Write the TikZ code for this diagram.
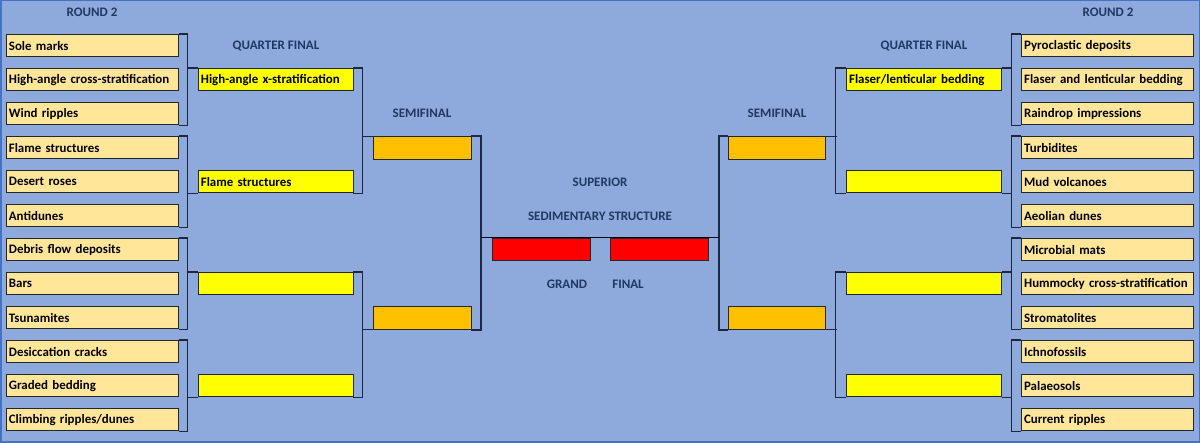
\documentclass[tikz,border=0pt]{standalone}
\usepackage{fontspec}
\setmainfont{Carlito}
\definecolor{bg}{HTML}{8EA9DB}
\definecolor{edge}{HTML}{4472C4}
\definecolor{rtwo}{HTML}{FFE699}
\definecolor{qfcol}{HTML}{FFFF00}
\definecolor{sfcol}{HTML}{FFC000}
\definecolor{fcol}{HTML}{FF0000}
\definecolor{head}{HTML}{1F3864}
\definecolor{brcol}{HTML}{1B2840}
\definecolor{thin}{HTML}{4A5B7E}
\tikzset{
  cell/.style={draw=black!85, line width=0.8pt, minimum height=22.5pt, inner ysep=0pt, inner xsep=2.5pt,
    align=left, font=\bfseries\fontsize{12.9}{14}\selectfont, text=black},
  rtwobox/.style={cell, fill=rtwo, minimum width=172pt, text width=167pt},
  qfbox/.style={cell, fill=qfcol, minimum width=154.5pt, text width=149.5pt},
  sfbox/.style={cell, fill=sfcol, minimum width=97.5pt},
  fbox/.style={cell, fill=fcol, minimum width=98pt},
  br/.style={draw=brcol, line width=1.3pt},
  brthick/.style={draw=brcol, line width=2pt},
  headtxt/.style={font=\bfseries\fontsize{13}{14}\selectfont, text=head, inner sep=0pt}
}
\begin{document}
\begin{tikzpicture}[x=1pt,y=-1pt]
\useasboundingbox (0,0) rectangle (1200,443);
\fill[bg] (0,0) rectangle (1200,443);
\draw[edge, line width=1.5pt] (0.75,0.75) rectangle (1199.25,442.25);

% headings
\node[headtxt] (hr2l) at (92,12) {ROUND 2};
\node[headtxt] (hr2r) at (1108,12) {ROUND 2};
\node[headtxt] (hqfl) at (276,46) {QUARTER FINAL};
\node[headtxt] (hqfr) at (924,46) {QUARTER FINAL};
\node[headtxt] (hsfl) at (422,113) {SEMIFINAL};
\node[headtxt] (hsfr) at (777,113) {SEMIFINAL};
\node[headtxt] (hsup) at (600,182) {SUPERIOR};
\node[headtxt] (hsed) at (600,216) {SEDIMENTARY STRUCTURE};
\node[headtxt] (hgr) at (567,284) {GRAND};
\node[headtxt] (hfi) at (628,284) {FINAL};

% round 2 boxes
\foreach \t [count=\i from 0] in {Sole marks, High-angle cross-stratification, Wind ripples, Flame structures, Desert roses, Antidunes, Debris flow deposits, Bars, Tsunamites, Desiccation cracks, Graded bedding, Climbing ripples/dunes}
  \node[rtwobox, anchor=north west] (L\i) at (6,{34+34*\i}) {\t};
\foreach \t [count=\i from 0] in {Pyroclastic deposits, Flaser and lenticular bedding, Raindrop impressions, Turbidites, Mud volcanoes, Aeolian dunes, Microbial mats, Hummocky cross-stratification, Stromatolites, Ichnofossils, Palaeosols, Current ripples}
  \node[rtwobox, anchor=north east] (R\i) at (1194,{34+34*\i}) {\t};

% quarter final boxes
\node[qfbox, anchor=north west] (QL1) at (198,68) {High-angle x-stratification};
\node[qfbox, anchor=north west] (QL2) at (198,170) {Flame structures};
\node[qfbox, anchor=north west] (QL3) at (198,272) {};
\node[qfbox, anchor=north west] (QL4) at (198,374) {};
\node[qfbox, anchor=north east] (QR1) at (1001.5,68) {Flaser/lenticular bedding};
\node[qfbox, anchor=north east] (QR2) at (1001.5,170) {};
\node[qfbox, anchor=north east] (QR3) at (1001.5,272) {};
\node[qfbox, anchor=north east] (QR4) at (1001.5,374) {};

% semifinal boxes
\node[sfbox, anchor=north west] (SL1) at (373,136.5) {};
\node[sfbox, anchor=north west] (SL2) at (373,306.5) {};
\node[sfbox, anchor=north east] (SR1) at (826,136.5) {};
\node[sfbox, anchor=north east] (SR2) at (826,306.5) {};

% final boxes
\node[fbox, anchor=north west] (FL) at (491.5,238) {};
\node[fbox, anchor=north east] (FR) at (708.5,238) {};

% round 2 brackets
\foreach \g in {0,1,2,3}{
  \pgfmathtruncatemacro\a{3*\g}
  \pgfmathtruncatemacro\c{3*\g+2}
  \draw[br] (L\a.north east) -- ++(9,0) |- (L\c.south east);
  \draw[br] (R\a.north west) -- ++(-10,0) |- (R\c.south west);
}
\draw[br] (QL1.north west) -- ++(-11,0);
\draw[br] (QL2.south west) -- ++(-11,0);
\draw[br] (QL3.north west) -- ++(-11,0);
\draw[br] (QL4.south west) -- ++(-11,0);
\draw[br] (QR1.north east) -- ++(10.5,0);
\draw[br] (QR2.south east) -- ++(10.5,0);
\draw[br] (QR3.north east) -- ++(10.5,0);
\draw[br] (QR4.south east) -- ++(10.5,0);

% quarter final brackets
\draw[br] (QL1.north east) -- ++(9.5,0) |- (QL2.south east);
\draw[br] (QL3.north east) -- ++(9.5,0) |- (QL4.south east);
\draw[br] (QR1.north west) -- ++(-10.5,0) |- (QR2.south west);
\draw[br] (QR3.north west) -- ++(-10.5,0) |- (QR4.south west);
\draw[br] (SL1.north west) -- ++(-11,0);
\draw[br] (SL2.south west) -- ++(-11,0);
\draw[br] (SR1.north east) -- ++(10.5,0);
\draw[br] (SR2.south east) -- ++(10.5,0);

% semifinal brackets
\draw[brthick] (SL1.north east) -- ++(10,0) coordinate (bl) |- (SL2.south east);
\draw[brthick] (SR1.north west) -- ++(-8.5,0) coordinate (brr) |- (SR2.south west);
\draw[thin, line width=1pt] (FL.north west -| bl) -- (FR.north east -| brr);
\end{tikzpicture}
\end{document}
